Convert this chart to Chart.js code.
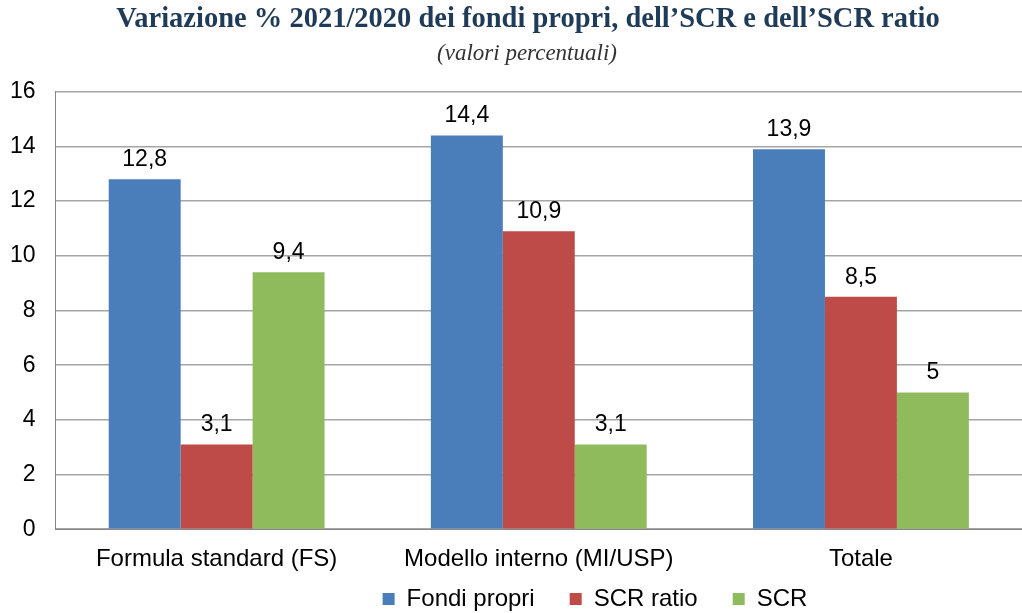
<!DOCTYPE html>
<html>
<head>
<meta charset="utf-8">
<script src="https://cdn.jsdelivr.net/npm/chart.js@4"></script>
<style>
  body { margin: 0; background: #fff; }
  #wrap { width: 1022px; height: 613px; }
</style>
</head>
<body>
<div id="wrap"><canvas id="myChart" width="1022" height="613"></canvas></div>
<script>
var categories = ["Formula standard (FS)", "Modello interno (MI/USP)", "Totale"];
var fondiPropri = [12.8, 14.4, 13.9];
var scrRatio = [3.1, 10.9, 8.5];
var scr = [9.4, 3.1, 5];
var seriesNames = ["Fondi propri", "SCR ratio", "SCR"];
var barColors = ["#4A7EBB", "#BE4B48", "#8FBB5C"];
var yTicks = [0, 2, 4, 6, 8, 10, 12, 14, 16];

var sansFont = "'Liberation Sans', Arial, sans-serif";
var serifFont = "'Liberation Serif', 'DejaVu Serif', serif";

function fmt(v) {
    return String(v).replace(".", ",");
}

// simple value labels above bars
var valueLabels = {
    id: "valueLabels",
    afterDatasetsDraw: function(chart) {
        var ctx = chart.ctx;
        ctx.save();
        ctx.font = "23px " + sansFont;
        ctx.fillStyle = "#000";
        ctx.textAlign = "center";
        ctx.textBaseline = "bottom";
        chart.data.datasets.forEach(function(ds, i) {
            chart.getDatasetMeta(i).data.forEach(function(bar, j) {
                ctx.fillText(fmt(ds.data[j]), bar.x, bar.y - 8);
            });
        });
        ctx.restore();
    }
};

// draw a layout box a bit off its slot (title / legend placement like the original)
function shiftBox(box, dx, dy) {
    if (!box || box._shifted) return;
    box._shifted = true;
    var origDraw = box.draw;
    box.draw = function() {
        var t = this.top, l = this.left, r = this.right;
        this.top = t + dy;
        this.left = l + dx;
        this.right = r + dx;
        origDraw.apply(this, arguments);
        this.top = t;
        this.left = l;
        this.right = r;
    };
}

var boxShift = {
    id: "boxShift",
    beforeLayout: function(chart) {
        var title = chart.titleBlock;
        shiftBox(title, 22, 0);
        chart.boxes.forEach(function(b) {
            if (title && b !== title && b.constructor === title.constructor) {
                shiftBox(b, 21, 0);
            }
        });
        shiftBox(chart.legend, 89, -38);
    }
};

new Chart("myChart", {
    type: "bar",
    data: {
        labels: categories,
        datasets: [
            { label: seriesNames[0], data: fondiPropri, backgroundColor: barColors[0] },
            { label: seriesNames[1], data: scrRatio, backgroundColor: barColors[1] },
            { label: seriesNames[2], data: scr, backgroundColor: barColors[2] }
        ]
    },
    options: {
        responsive: false,
        animation: false,
        layout: { padding: { left: -10, right: 0, top: 0, bottom: 0 } },
        datasets: {
            bar: { categoryPercentage: 0.67, barPercentage: 1 }
        },
        plugins: {
            title: {
                display: true,
                text: "Variazione % 2021/2020 dei fondi propri, dell\u2019SCR e dell\u2019SCR ratio",
                color: "#1F3B58",
                font: { family: serifFont, size: 28.5, weight: "bold" },
                padding: { top: 3, bottom: 0 }
            },
            subtitle: {
                display: true,
                text: "(valori percentuali)",
                color: "#333",
                font: { family: serifFont, size: 23, style: "italic" },
                padding: { top: 3, bottom: 24 }
            },
            legend: {
                position: "bottom",
                maxHeight: 23,
                labels: {
                    color: "#000",
                    boxWidth: 12,
                    boxHeight: 12,
                    padding: 35,
                    font: { family: sansFont, size: 24 }
                }
            },
            tooltip: { enabled: false }
        },
        scales: {
            x: {
                grid: { display: false, drawTicks: false },
                border: { color: "#868686", width: 1 },
                ticks: {
                    color: "#000",
                    padding: 16,
                    font: { family: sansFont, size: 24 }
                }
            },
            y: {
                min: 0,
                max: 16,
                afterBuildTicks: function(axis) {
                    axis.ticks = yTicks.map(function(v) { return { value: v }; });
                },
                grid: { color: "#A6A6A6", lineWidth: 1.5, drawTicks: false },
                border: { color: "#868686", width: 1 },
                ticks: {
                    color: "#000",
                    padding: 20,
                    font: { family: sansFont, size: 23 }
                }
            }
        }
    },
    plugins: [valueLabels, boxShift]
});
</script>
</body>
</html>
